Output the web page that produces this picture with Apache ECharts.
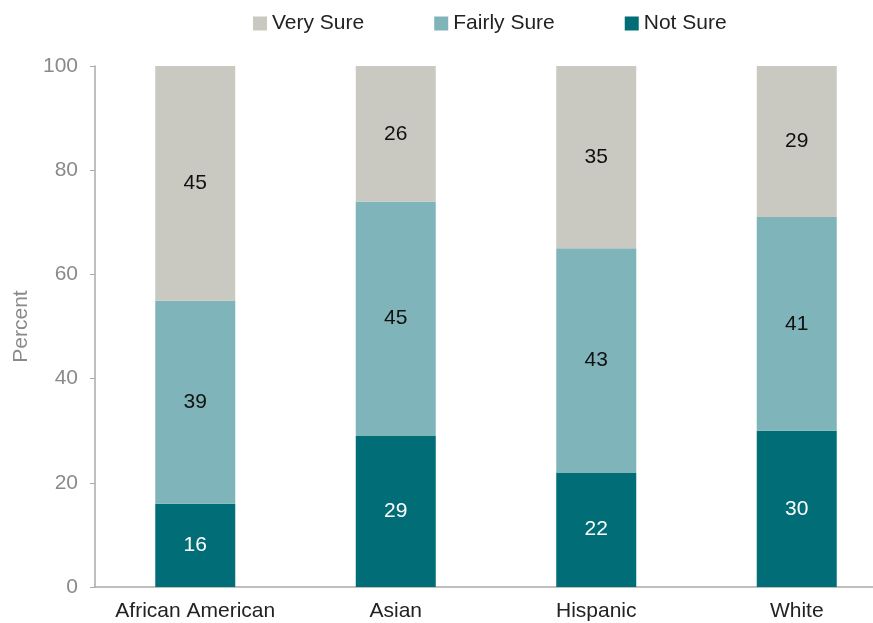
<!DOCTYPE html>
<html><head><meta charset="utf-8">
<script src="https://cdn.jsdelivr.net/npm/echarts@6/dist/echarts.min.js"></script>
<style>html,body{margin:0;padding:0;background:#fff;overflow:hidden;width:873px;height:623px}#c{width:897px;height:623px}</style>
</head><body><div id="c"></div>
<script>
const categories = ['African American', 'Asian', 'Hispanic', 'White'];
const notSure = [16, 29, 22, 30];
const fairlySure = [39, 45, 43, 41];
const verySure = [45, 26, 35, 29];
const yTicks = [0, 20, 40, 60, 80, 100];

const FONT = '"Liberation Sans", Arial, Helvetica, sans-serif';
const chart = echarts.init(document.getElementById('c'));
function series(name, data, color, labelColor) {
  return {
    name, type: 'bar', stack: 'total', data, barWidth: 80,
    itemStyle: { color },
    label: { show: true, position: 'inside', color: labelColor, fontSize: 21, fontFamily: FONT },
    emphasis: { disabled: true }
  };
}
chart.setOption({
  animation: false,
  textStyle: { fontFamily: FONT },
  legend: {
    top: 8, left: 248, itemWidth: 14, itemHeight: 14, itemGap: 70, icon: 'rect',
    textStyle: { fontSize: 21, color: '#222', fontFamily: FONT },
    data: ['Very Sure', 'Fairly Sure', 'Not Sure']
  },
  grid: { left: 95, right: 0, top: 66, height: 521, containLabel: false },
  xAxis: {
    type: 'category', data: categories,
    axisLine: { lineStyle: { color: '#aaaaaa', width: 1.5 } },
    axisTick: { show: false },
    axisLabel: { color: '#222', fontSize: 21, margin: 14, interval: 0, fontFamily: FONT }
  },
  yAxis: {
    type: 'value', min: yTicks[0], max: yTicks[yTicks.length - 1], interval: 20,
    name: 'Percent', nameLocation: 'middle', nameGap: 60, nameRotate: 90,
    nameTextStyle: { color: '#8a8a8a', fontSize: 21, fontFamily: FONT },
    axisLine: { show: true, lineStyle: { color: '#aaaaaa', width: 1.5 } },
    axisTick: { show: true, length: 5, lineStyle: { color: '#aaaaaa' } },
    splitLine: { show: false },
    axisLabel: { color: '#8a8a8a', fontSize: 21, margin: 17, fontFamily: FONT }
  },
  series: [
    series('Not Sure', notSure, '#006d77', '#ffffff'),
    series('Fairly Sure', fairlySure, '#80b4bb', '#111111'),
    series('Very Sure', verySure, '#c9c9c1', '#111111')
  ]
});
</script></body></html>
